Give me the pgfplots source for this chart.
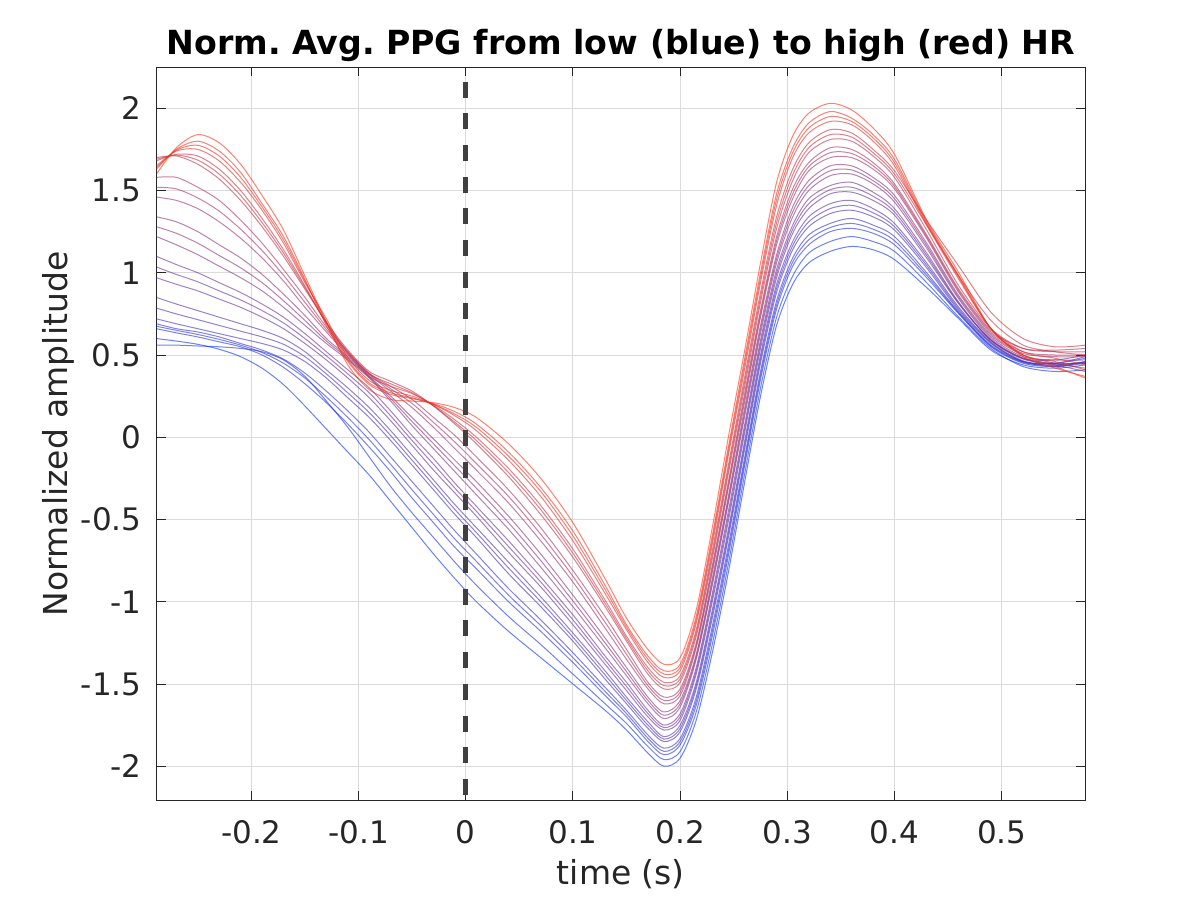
\documentclass[border=0pt]{standalone}
\usepackage{pgfplots}
\pgfplotsset{compat=1.18}
\usepackage{pgfplotstable}
\usepackage{fontspec}
\setmainfont{DejaVu Sans}
\frenchspacing
\definecolor{axc}{RGB}{38,38,38}
\definecolor{dashc}{RGB}{64,64,64}
\definecolor{bluec}{rgb}{0,0.18,1}
\definecolor{redc}{rgb}{1,0.18,0.05}
\pgfplotstableread{
x c0 c1 c2 c3 c4 c5 c6 c7 c8 c9 c10 c11 c12 c13 c14 c15 c16
-0.2885 0.60 0.56 0.66 0.69 0.72 0.85 0.97 1.10 1.22 1.34 1.46 1.58 1.70 1.68 1.65 1.63 1.60
-0.27 0.585 0.56 0.635 0.66 0.69 0.81 0.93 1.05 1.17 1.31 1.44 1.58 1.71 1.72 1.74 1.75 1.76
-0.25 0.565 0.555 0.61 0.64 0.66 0.77 0.89 1.00 1.11 1.25 1.39 1.52 1.66 1.71 1.75 1.80 1.84
-0.23 0.535 0.55 0.58 0.61 0.63 0.73 0.84 0.94 1.04 1.17 1.31 1.44 1.57 1.63 1.68 1.74 1.79
-0.21 0.49 0.54 0.55 0.57 0.60 0.69 0.79 0.88 0.97 1.09 1.21 1.32 1.44 1.50 1.55 1.61 1.66
-0.19 0.42 0.52 0.50 0.53 0.57 0.65 0.73 0.81 0.89 0.99 1.09 1.18 1.28 1.33 1.38 1.42 1.47
-0.17 0.32 0.47 0.425 0.475 0.53 0.60 0.66 0.73 0.79 0.87 0.95 1.02 1.10 1.14 1.18 1.22 1.26
-0.15 0.19 0.37 0.325 0.39 0.46 0.52 0.57 0.63 0.68 0.74 0.79 0.85 0.90 0.92 0.94 0.96 0.98
-0.13 0.05 0.22 0.21 0.28 0.36 0.41 0.47 0.52 0.57 0.60 0.64 0.67 0.70 0.69 0.72 0.68 0.70
-0.11 -0.09 0.06 0.08 0.16 0.24 0.30 0.36 0.41 0.47 0.49 0.50 0.52 0.53 0.51 0.485 0.46 0.44
-0.09 -0.23 -0.12 -0.06 0.03 0.12 0.18 0.24 0.30 0.36 0.37 0.38 0.39 0.40 0.37 0.345 0.32 0.29
-0.07 -0.39 -0.30 -0.21 -0.12 -0.02 0.04 0.10 0.16 0.22 0.25 0.28 0.31 0.34 0.31 0.285 0.26 0.23
-0.05 -0.55 -0.46 -0.37 -0.27 -0.17 -0.11 -0.05 0.01 0.07 0.12 0.18 0.23 0.28 0.265 0.25 0.235 0.22
-0.03 -0.71 -0.61 -0.52 -0.42 -0.32 -0.26 -0.20 -0.13 -0.07 -0.01 0.06 0.12 0.19 0.195 0.20 0.205 0.21
-0.01 -0.86 -0.76 -0.67 -0.57 -0.47 -0.41 -0.34 -0.28 -0.21 -0.14 -0.07 0.01 0.08 0.105 0.13 0.155 0.18
0.01 -1.00 -0.90 -0.80 -0.71 -0.61 -0.55 -0.48 -0.42 -0.35 -0.27 -0.20 -0.12 -0.04 0.00 0.04 0.08 0.12
0.04 -1.18 -1.09 -1.00 -0.92 -0.83 -0.76 -0.70 -0.63 -0.56 -0.48 -0.40 -0.32 -0.24 -0.19 -0.14 -0.09 -0.04
0.07 -1.34 -1.26 -1.18 -1.11 -1.03 -0.97 -0.91 -0.85 -0.79 -0.71 -0.63 -0.55 -0.47 -0.415 -0.36 -0.305 -0.25
0.10 -1.50 -1.44 -1.37 -1.31 -1.24 -1.19 -1.14 -1.08 -1.03 -0.96 -0.88 -0.81 -0.73 -0.68 -0.63 -0.57 -0.52
0.13 -1.66 -1.62 -1.57 -1.52 -1.47 -1.42 -1.38 -1.33 -1.28 -1.22 -1.16 -1.09 -1.03 -0.99 -0.95 -0.90 -0.86
0.15 -1.78 -1.74 -1.70 -1.66 -1.62 -1.58 -1.54 -1.49 -1.45 -1.40 -1.35 -1.29 -1.24 -1.21 -1.17 -1.14 -1.10
0.17 -1.92 -1.88 -1.85 -1.81 -1.77 -1.73 -1.70 -1.66 -1.62 -1.58 -1.53 -1.49 -1.44 -1.40 -1.37 -1.33 -1.29
0.185 -2.00 -1.96 -1.93 -1.89 -1.85 -1.82 -1.78 -1.75 -1.71 -1.67 -1.62 -1.58 -1.53 -1.49 -1.46 -1.42 -1.38
0.20 -1.95 -1.91 -1.87 -1.83 -1.79 -1.75 -1.72 -1.68 -1.64 -1.60 -1.57 -1.53 -1.49 -1.45 -1.42 -1.38 -1.34
0.215 -1.72 -1.67 -1.63 -1.58 -1.53 -1.49 -1.44 -1.40 -1.35 -1.32 -1.28 -1.25 -1.21 -1.17 -1.13 -1.09 -1.05
0.23 -1.31 -1.26 -1.21 -1.15 -1.10 -1.05 -1.00 -0.95 -0.90 -0.86 -0.82 -0.78 -0.74 -0.69 -0.65 -0.60 -0.55
0.245 -0.82 -0.77 -0.72 -0.66 -0.61 -0.56 -0.51 -0.45 -0.40 -0.36 -0.31 -0.27 -0.22 -0.17 -0.11 -0.06 0.00
0.26 -0.28 -0.23 -0.18 -0.13 -0.08 -0.03 0.02 0.07 0.12 0.17 0.21 0.26 0.30 0.36 0.41 0.47 0.52
0.275 0.25 0.30 0.35 0.40 0.45 0.50 0.54 0.59 0.63 0.68 0.73 0.77 0.82 0.88 0.94 1.00 1.06
0.29 0.68 0.73 0.78 0.83 0.88 0.93 0.97 1.02 1.06 1.11 1.17 1.22 1.27 1.34 1.41 1.48 1.55
0.305 0.93 0.98 1.04 1.09 1.14 1.19 1.24 1.29 1.34 1.40 1.45 1.51 1.56 1.63 1.70 1.76 1.83
0.32 1.06 1.12 1.17 1.23 1.28 1.34 1.39 1.45 1.50 1.56 1.62 1.67 1.73 1.79 1.85 1.91 1.97
0.34 1.13 1.19 1.25 1.30 1.36 1.42 1.48 1.53 1.59 1.65 1.70 1.76 1.81 1.87 1.92 1.98 2.03
0.36 1.16 1.22 1.27 1.33 1.38 1.44 1.49 1.55 1.60 1.65 1.70 1.75 1.80 1.85 1.90 1.94 1.99
0.38 1.14 1.19 1.24 1.29 1.34 1.39 1.44 1.49 1.54 1.58 1.63 1.67 1.71 1.75 1.80 1.84 1.88
0.40 1.08 1.13 1.17 1.22 1.26 1.30 1.35 1.39 1.43 1.47 1.51 1.54 1.58 1.62 1.65 1.69 1.72
0.43 0.91 0.94 0.97 1.00 1.03 1.06 1.09 1.12 1.15 1.18 1.21 1.23 1.26 1.32 1.29 1.31 1.32
0.46 0.72 0.73 0.75 0.76 0.77 0.79 0.81 0.82 0.84 0.86 0.88 0.90 0.92 1.04 0.96 0.98 1.00
0.49 0.53 0.54 0.55 0.56 0.57 0.58 0.59 0.59 0.60 0.62 0.63 0.65 0.66 0.76 0.66 0.66 0.66
0.52 0.44 0.43 0.45 0.46 0.46 0.465 0.48 0.475 0.48 0.50 0.51 0.54 0.54 0.60 0.52 0.49 0.50
0.55 0.42 0.40 0.43 0.45 0.43 0.435 0.47 0.445 0.45 0.45 0.49 0.53 0.52 0.55 0.48 0.42 0.43
0.578 0.44 0.41 0.45 0.48 0.46 0.4575 0.50 0.4525 0.45 0.42 0.49 0.54 0.52 0.56 0.44 0.37 0.36
}\ppg
\pgfplotstableread{
x d1 d2 d3 d4 d5 d6 d7
-0.2885 0.675 0.785 1.035 1.28 1.52 1.69 1.64
-0.27 0.65 0.75 0.99 1.24 1.51 1.715 1.745
-0.25 0.625 0.715 0.945 1.18 1.455 1.685 1.775
-0.23 0.595 0.68 0.89 1.105 1.375 1.60 1.71
-0.21 0.56 0.645 0.835 1.03 1.265 1.47 1.58
-0.19 0.515 0.61 0.77 0.94 1.135 1.305 1.40
-0.17 0.45 0.565 0.695 0.83 0.985 1.12 1.20
-0.15 0.36 0.49 0.60 0.71 0.82 0.91 0.95
-0.13 0.245 0.385 0.495 0.585 0.655 0.695 0.70
-0.11 0.12 0.27 0.385 0.48 0.51 0.52 0.47
-0.09 -0.015 0.15 0.27 0.365 0.385 0.385 0.33
-0.07 -0.165 0.01 0.13 0.235 0.295 0.325 0.27
-0.05 -0.32 -0.14 -0.02 0.095 0.205 0.27 0.24
-0.03 -0.47 -0.29 -0.165 -0.04 0.09 0.19 0.20
-0.01 -0.62 -0.44 -0.31 -0.175 -0.03 0.09 0.14
0.01 -0.755 -0.58 -0.45 -0.31 -0.16 -0.02 0.06
0.04 -0.96 -0.795 -0.665 -0.52 -0.36 -0.215 -0.115
0.07 -1.145 -1.00 -0.88 -0.75 -0.59 -0.44 -0.33
0.10 -1.34 -1.215 -1.11 -0.995 -0.845 -0.705 -0.60
0.13 -1.545 -1.445 -1.355 -1.25 -1.125 -1.01 -0.925
0.15 -1.68 -1.60 -1.515 -1.425 -1.32 -1.225 -1.155
0.17 -1.83 -1.75 -1.68 -1.60 -1.51 -1.42 -1.35
0.185 -1.91 -1.835 -1.765 -1.69 -1.60 -1.51 -1.44
0.20 -1.85 -1.77 -1.70 -1.62 -1.55 -1.47 -1.40
0.215 -1.605 -1.51 -1.42 -1.335 -1.265 -1.19 -1.11
0.23 -1.18 -1.075 -0.975 -0.88 -0.80 -0.715 -0.625
0.245 -0.69 -0.585 -0.48 -0.38 -0.29 -0.195 -0.085
0.26 -0.155 -0.055 0.045 0.145 0.235 0.33 0.44
0.275 0.375 0.475 0.565 0.655 0.75 0.85 0.97
0.29 0.805 0.905 0.995 1.085 1.195 1.305 1.445
0.305 1.065 1.165 1.265 1.37 1.48 1.595 1.73
0.32 1.20 1.31 1.42 1.53 1.645 1.76 1.88
0.34 1.275 1.39 1.505 1.62 1.73 1.84 1.95
0.36 1.30 1.41 1.52 1.625 1.725 1.825 1.92
0.38 1.265 1.365 1.465 1.56 1.65 1.73 1.82
0.40 1.195 1.28 1.37 1.45 1.525 1.60 1.67
0.43 0.985 1.045 1.105 1.165 1.22 1.29 1.30
0.46 0.755 0.78 0.815 0.85 0.89 0.98 0.97
0.49 0.555 0.575 0.59 0.61 0.64 0.71 0.66
0.52 0.455 0.46 0.48 0.49 0.52 0.56 0.50
0.55 0.44 0.45 0.44 0.47 0.50 0.52 0.46
0.578 0.46 0.49 0.40 0.47 0.50 0.50 0.41
}\ppgb
\pgfplotsset{ppg/.style={line width=0.5pt, draw opacity=0.6, smooth, no markers}}
\begin{document}
\begin{tikzpicture}
\path[use as bounding box] (0,0) rectangle (600pt,450pt);
\begin{axis}[
  at={(78.25pt,49.85pt)}, anchor=south west,
  scale only axis, width=464.4pt, height=366.4pt,
  xmin=-0.2885, xmax=0.578, ymin=-2.207, ymax=2.248,
  axis line style={draw=axc, line width=0.5pt},
  tick align=inside, xtick pos=both, ytick pos=both,
  major tick length=4.5pt,
  tick style={draw=axc, line width=0.5pt},
  grid=major, major grid style={draw=black!14, line width=0.5pt},
  xtick={-0.2,-0.1,0,0.1,0.2,0.3,0.4,0.5},
  xticklabels={-0.2,-0.1,0,0.1,0.2,0.3,0.4,0.5},
  ytick={-2,-1.5,-1,-0.5,0,0.5,1,1.5,2},
  yticklabels={-2,-1.5,-1,-0.5,0,0.5,1,1.5,2},
  ticklabel style={font=\fontsize{15.5}{18}\selectfont, text=axc, inner sep=0pt},
  xticklabel style={anchor=base, yshift=-21.5pt},
  yticklabel style={anchor=east, xshift=-7.4pt},
  title={Norm. Avg. PPG from low (blue) to high (red) HR},
  title style={at={(axis description cs:0.5,1.01706)}, anchor=base, yshift=-6pt, font=\fontsize{16.6}{20}\selectfont\bfseries, inner sep=0pt},
  xlabel={time (s)},
  xlabel style={at={(axis description cs:0.5,-0.11436)}, anchor=base, font=\fontsize{16.5}{19}\selectfont, text=axc, inner sep=0pt},
  ylabel={Normalized amplitude},
  ylabel style={at={(axis description cs:-0.09636,0.5)}, anchor=base, font=\fontsize{16.5}{19}\selectfont, text=axc, inner sep=0pt},
]
\addplot[ppg, color=redc!0!bluec] table[x=x, y=c0]{\ppg};
\addplot[ppg, color=redc!6.25!bluec] table[x=x, y=c1]{\ppg};
\addplot[ppg, color=redc!12.5!bluec] table[x=x, y=c2]{\ppg};
\addplot[ppg, color=redc!15.625!bluec] table[x=x, y=d1]{\ppgb};
\addplot[ppg, color=redc!18.75!bluec] table[x=x, y=c3]{\ppg};
\addplot[ppg, color=redc!25!bluec] table[x=x, y=c4]{\ppg};
\addplot[ppg, color=redc!28.125!bluec] table[x=x, y=d2]{\ppgb};
\addplot[ppg, color=redc!31.25!bluec] table[x=x, y=c5]{\ppg};
\addplot[ppg, color=redc!37.5!bluec] table[x=x, y=c6]{\ppg};
\addplot[ppg, color=redc!40.625!bluec] table[x=x, y=d3]{\ppgb};
\addplot[ppg, color=redc!43.75!bluec] table[x=x, y=c7]{\ppg};
\addplot[ppg, color=redc!50!bluec] table[x=x, y=c8]{\ppg};
\addplot[ppg, color=redc!53.125!bluec] table[x=x, y=d4]{\ppgb};
\addplot[ppg, color=redc!56.25!bluec] table[x=x, y=c9]{\ppg};
\addplot[ppg, color=redc!62.5!bluec] table[x=x, y=c10]{\ppg};
\addplot[ppg, color=redc!65.625!bluec] table[x=x, y=d5]{\ppgb};
\addplot[ppg, color=redc!68.75!bluec] table[x=x, y=c11]{\ppg};
\addplot[ppg, color=redc!75!bluec] table[x=x, y=c12]{\ppg};
\addplot[ppg, color=redc!78.125!bluec] table[x=x, y=d6]{\ppgb};
\addplot[ppg, color=redc!81.25!bluec] table[x=x, y=c13]{\ppg};
\addplot[ppg, color=redc!87.5!bluec] table[x=x, y=c14]{\ppg};
\addplot[ppg, color=redc!90.625!bluec] table[x=x, y=d7]{\ppgb};
\addplot[ppg, color=redc!93.75!bluec] table[x=x, y=c15]{\ppg};
\addplot[ppg, color=redc!100!bluec] table[x=x, y=c16]{\ppg};
\addplot[draw=dashc, line width=2.5pt, dash pattern=on 8pt off 7.85pt, dash phase=8.8pt] coordinates {(0,2.248) (0,-2.207)};
\end{axis}
\end{tikzpicture}
\end{document}
